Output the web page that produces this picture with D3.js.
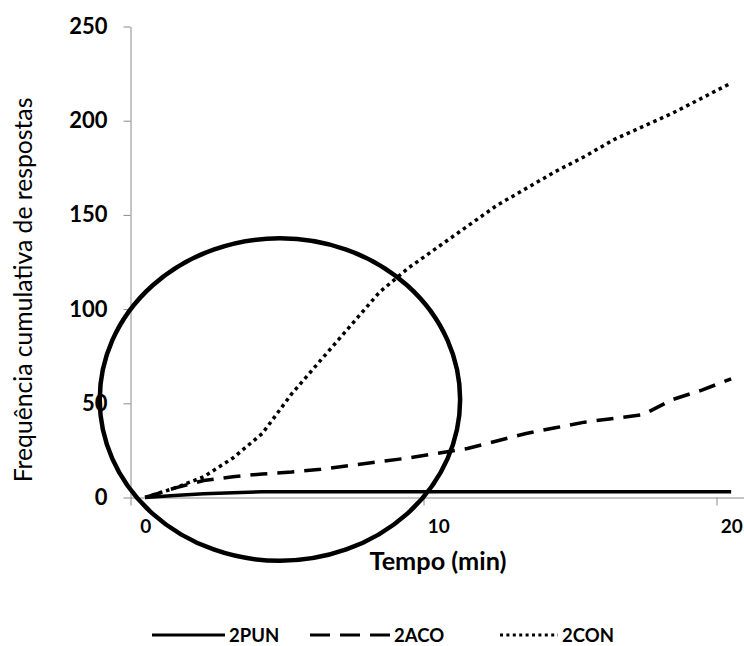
<!DOCTYPE html>
<html>
<head>
<meta charset="utf-8">
<script src="https://cdn.jsdelivr.net/npm/d3@7"></script>
<style>
  body { margin: 0; background: #fff; }
  text { font-family: Lato, "Open Sans", sans-serif; fill: #000; }
</style>
</head>
<body>
<script>
// The data (cumulative responses per minute)
var minutes = [0, 1, 2, 3, 4, 5, 6, 7, 8, 9, 10, 11, 12, 13, 14, 15, 16, 17, 18, 19, 20];
var pun = [0, 1, 2, 2.5, 3, 3, 3, 3, 3, 3, 3, 3, 3, 3, 3, 3, 3, 3, 3, 3, 3];
var aco = [0, 5, 9, 11, 12.5, 13.5, 15, 17, 19, 21, 23.5, 26, 30, 34, 37, 40, 42, 44, 52, 57, 63];
var con = [0, 5, 11, 21, 34, 55, 73, 91, 109, 122, 133, 144, 155, 164, 173, 181, 190, 197, 204, 212, 220];
var seriesNames = ["2PUN", "2ACO", "2CON"];
var yTicks = [0, 50, 100, 150, 200, 250];
var xLabels = [0, 10, 20];
var xTickMarks = [-0.5, 9.5, 19.5];   // tick marks sit between categories

// highlighted region (centre in minutes / responses, radii in the same units)
var ring = { cx: 4.6, cy: 52, rx: 6.15, ry: 85.6 };

var width = 744;
var height = 646;
var axisColor = "#8a8a8a";

var svg = d3.select("body").append("svg")
    .attr("width", width)
    .attr("height", height);

// category axis: 21 slots from the y axis on
var x = d3.scaleLinear()
    .domain([-0.5, 20.5])
    .range([130.5, 130.5 + 21 * 29.3]);
var y = d3.scaleLinear()
    .domain([0, 250])
    .range([497.5, 26.5]);

// y axis
var yAxis = svg.append("g")
    .attr("transform", "translate(130.5,0)")
    .call(d3.axisLeft(y).tickValues(yTicks).tickSize(7).tickSizeOuter(0).tickPadding(16));
yAxis.selectAll("path, line").attr("stroke", axisColor);
yAxis.selectAll("text")
    .style("font-size", "22px")
    .style("font-weight", "bold");

// x axis line and tick marks
var xAxis = svg.append("g")
    .attr("transform", "translate(0,497.5)")
    .call(d3.axisBottom(x).tickValues(xTickMarks).tickSize(8).tickSizeOuter(0).tickFormat(""));
xAxis.selectAll("path, line").attr("stroke", axisColor);

// x labels, centred on their category
var xText = svg.append("g")
    .attr("transform", "translate(0,497.5)")
    .call(d3.axisBottom(x).tickValues(xLabels).tickSize(0).tickPadding(22));
xText.select(".domain").remove();
xText.selectAll("text")
    .style("font-size", "19px")
    .style("font-weight", "bold");

// axis titles
function fitWidth(sel, target) {
    var len = sel.node().getComputedTextLength();
    var fs = parseFloat(sel.style("font-size"));
    sel.style("font-size", (fs * target / len) + "px");
}

var yTitle = svg.append("text")
    .attr("transform", "translate(32,290) rotate(-90)")
    .attr("text-anchor", "middle")
    .style("font-size", "22px")
    .text("Frequência cumulativa de respostas");
fitWidth(yTitle, 385);

var xTitle = svg.append("text")
    .attr("x", 438)
    .attr("y", 570)
    .attr("text-anchor", "middle")
    .style("font-size", "21px")
    .style("font-weight", "bold")
    .text("Tempo (min)");
fitWidth(xTitle, 137);

// the lines
var styles = [
    { values: pun, dash: null },
    { values: aco, dash: "17,10" },
    { values: con, dash: "3.5,3.8" }
];

var line = d3.line()
    .x(function (d, i) { return x(minutes[i]); })
    .y(function (d) { return y(d); });

svg.append("g")
    .selectAll("path")
    .data(styles)
    .join("path")
    .attr("d", function (d) { return line(d.values); })
    .attr("fill", "none")
    .attr("stroke", "#000")
    .attr("stroke-width", 3.5)
    .attr("stroke-linejoin", "round")
    .attr("stroke-dasharray", function (d) { return d.dash; });

// the circle drawn over the start of the curves
svg.append("ellipse")
    .attr("cx", x(ring.cx))
    .attr("cy", y(ring.cy))
    .attr("rx", x(ring.rx) - x(0))
    .attr("ry", y(0) - y(ring.ry))
    .attr("fill", "none")
    .attr("stroke", "#000")
    .attr("stroke-width", 4.5);

// legend
var legendItems = [
    { name: seriesNames[0], x0: 152, x1: 225, dash: null },
    { name: seriesNames[1], x0: 310, x1: 390, dash: "20,10" },
    { name: seriesNames[2], x0: 500, x1: 558, dash: "3,3.4" }
];
var legend = svg.append("g").attr("transform", "translate(0,635)");
legend.selectAll("line")
    .data(legendItems)
    .join("line")
    .attr("x1", function (d) { return d.x0; })
    .attr("x2", function (d) { return d.x1; })
    .attr("stroke", "#000")
    .attr("stroke-width", 3)
    .attr("stroke-dasharray", function (d) { return d.dash; });
legend.selectAll("text")
    .data(legendItems)
    .join("text")
    .attr("x", function (d) { return d.x1 + 4; })
    .attr("y", 6.5)
    .style("font-size", "18.5px")
    .style("font-weight", "bold")
    .text(function (d) { return d.name; });
</script>
</body>
</html>
